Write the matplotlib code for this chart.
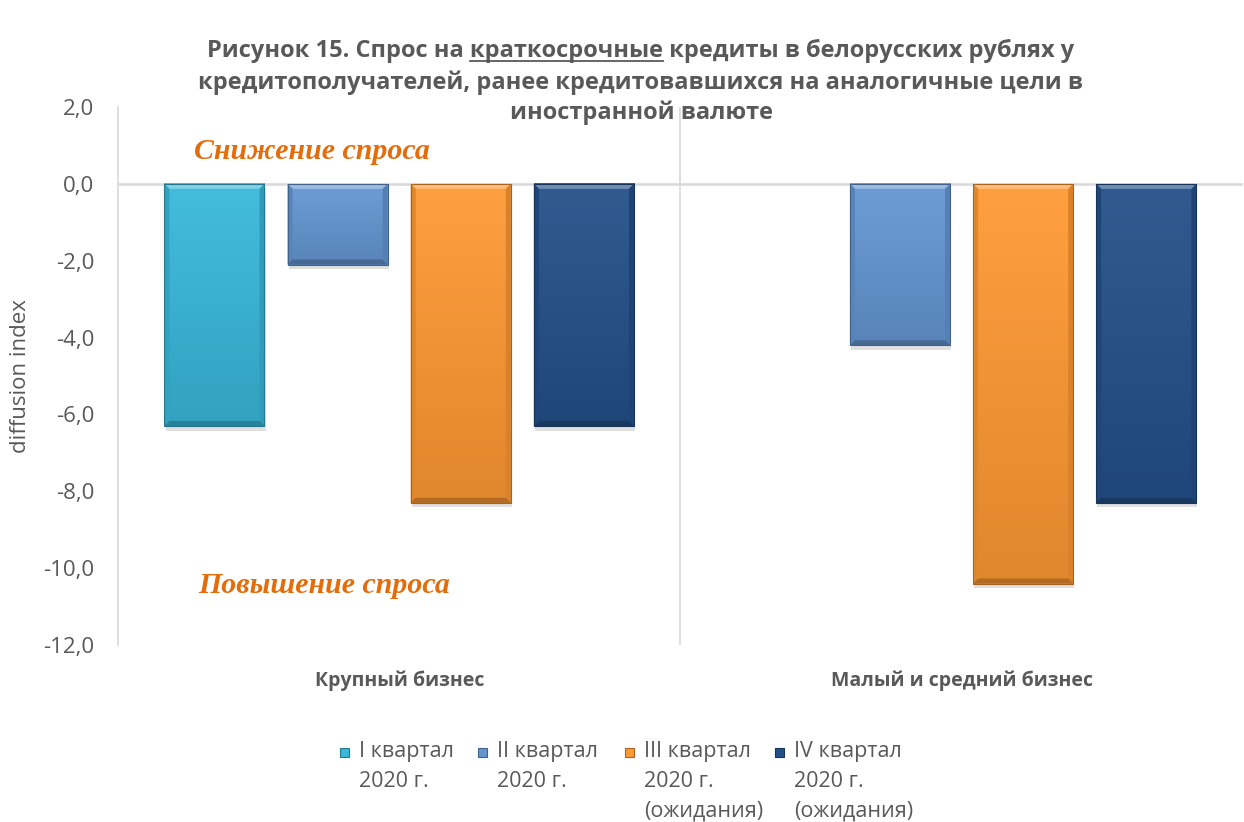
import numpy as np
import matplotlib.pyplot as plt
import matplotlib.colors as mcolors
from matplotlib.patches import Rectangle, Polygon

W, H = 1244, 822

categories = ['Крупный бизнес', 'Малый и средний бизнес']
series = ['I квартал\n2020 г.', 'II квартал\n2020 г.',
          'III квартал\n2020 г.\n(ожидания)', 'IV квартал\n2020 г.\n(ожидания)']
values = [
    [-6.3, 0.0],    # I квартал 2020
    [-2.1, -4.2],   # II квартал 2020
    [-8.3, -10.4],  # III квартал 2020 (ожидания)
    [-6.3, -8.3],   # IV квартал 2020 (ожидания)
]
colors = ['#38B8DA', '#6496D2', '#FF9933', '#245089']
yticks = np.arange(-12, 2.1, 2)

txt = '#595959'
grid = '#D9D9D9'
plt.rcParams['font.family'] = ['Open Sans', 'DejaVu Sans']


def shade(c, f):
    r = np.array(mcolors.to_rgb(c))
    if f > 0:
        return tuple(r + (1 - r) * f)
    return tuple(r * (1 + f))


fig = plt.figure(figsize=(W / 100, H / 100), dpi=100)
ax = fig.add_axes([118 / W, 1 - 645 / H, 1 - 118 / W - 0.001, (645 - 107) / H])

step = 0.219
width = 0.178
bx = 5 / 563   # bevel size in data units (x)
by = 5 / 38.4  # bevel size in data units (y)
grad = np.linspace(0, 1, 64).reshape(-1, 1)
x = np.arange(len(categories))
for i, vals in enumerate(values):
    pos = x + (i - 1.5) * step
    for p, v in zip(pos, vals):
        if v == 0:
            continue
        c = colors[i]
        l, r = p - width / 2, p + width / 2
        # shadow
        ax.add_patch(Rectangle((l + 0.002, v - 0.12), width, -v, facecolor='#000000',
                               alpha=0.12, lw=0, zorder=2))
        cm = mcolors.LinearSegmentedColormap.from_list('g', [shade(c, 0.06), shade(c, -0.12)])
        ax.imshow(grad, extent=[l, r, v, 0], origin='upper', aspect='auto', cmap=cm, zorder=3)
        ax.add_patch(Rectangle((l, v), width, -v, facecolor='none',
                               edgecolor=shade(c, -0.35), lw=0.8, zorder=5))
        # bevel strips
        ax.add_patch(Polygon([(l, 0), (r, 0), (r - bx, -by), (l + bx, -by)],
                             facecolor=shade(c, 0.35), lw=0, zorder=4))
        ax.add_patch(Polygon([(l, 0), (l + bx, -by), (l + bx, v + by), (l, v)],
                             facecolor=shade(c, -0.12), lw=0, zorder=4))
        ax.add_patch(Polygon([(r, 0), (r - bx, -by), (r - bx, v + by), (r, v)],
                             facecolor=shade(c, -0.15), lw=0, zorder=4))
        ax.add_patch(Polygon([(l, v), (r, v), (r - bx, v + by), (l + bx, v + by)],
                             facecolor=shade(c, -0.3), lw=0, zorder=4))

ax.set_xlim(-0.5, 1.5)
ax.set_ylim(-12, 2)
ax.set_yticks(yticks)
ax.set_yticklabels([f'{t:.1f}'.replace('.', ',') for t in yticks], fontsize=16, color=txt)
ax.set_xticks(x)
ax.set_xticklabels(categories, fontsize=14, fontweight='bold', color=txt)
ax.tick_params(axis='both', length=0)
ax.tick_params(axis='x', pad=18)
ax.tick_params(axis='y', pad=17)

for s in ['top', 'right', 'bottom']:
    ax.spines[s].set_visible(False)
ax.spines['left'].set_color(grid)
ax.spines['left'].set_linewidth(1.2)
ax.axhline(0, color=grid, lw=1.8, zorder=1)
ax.axvline(0.5, color=grid, lw=1.2, zorder=1)

ax.set_ylabel('diffusion index', fontsize=16, color=txt)
ax.yaxis.set_label_coords(-0.077, 0.5)

ax.text(-0.155, 0.83, 'Снижение спроса', fontsize=21.5, color='#E46C0A',
        family='Liberation Serif', fontweight='bold', style='italic',
        ha='center', va='center')
ax.text(-0.134, -10.44, 'Повышение спроса', fontsize=21.5, color='#E46C0A',
        family='Liberation Serif', fontweight='bold', style='italic',
        ha='center', va='center')

# title with underlined word
t1 = 'Рисунок 15. Спрос на краткосрочные кредиты в белорусских рублях у'
t2 = 'кредитополучателей, ранее кредитовавшихся на аналогичные цели в'
t3 = 'иностранной валюте'
tfs = 17
tkw = dict(fontsize=tfs, fontweight='bold', color=txt, ha='center', va='center')
cx = 641 / W
line1 = fig.text(cx, 1 - 51 / H, t1, **tkw)
fig.text(cx, 1 - 83 / H, t2, **tkw)
fig.text(cx, 1 - 113 / H, t3, **tkw)

fig.canvas.draw()
r = fig.canvas.get_renderer()
bb = line1.get_window_extent(r)


def w_of(s):
    tt = fig.text(0, 0, s, fontsize=tfs, fontweight='bold')
    w = tt.get_window_extent(r).width
    tt.remove()
    return w


end = bb.x0 + w_of('Рисунок 15. Спрос на краткосрочные')
start = end - w_of('краткосрочные')
uy = bb.y0 + 2
fig.add_artist(plt.Line2D([start / W, end / W], [uy / H, uy / H], color=txt, lw=1.3))

# legend
sq_x = [340, 478, 625, 775]
for i, lab in enumerate(series):
    c = colors[i]
    fig.patches.append(Rectangle((sq_x[i] / W, 1 - 757 / H), 9 / W, 9 / H,
                                 transform=fig.transFigure, facecolor=c,
                                 edgecolor=shade(c, -0.35), lw=0.8))
    fig.text((sq_x[i] + 19) / W, 1 - 741 / H, lab, fontsize=15.5, color=txt,
             ha='left', va='top', linespacing=1.56)

fig.savefig('out.png', dpi=100)
